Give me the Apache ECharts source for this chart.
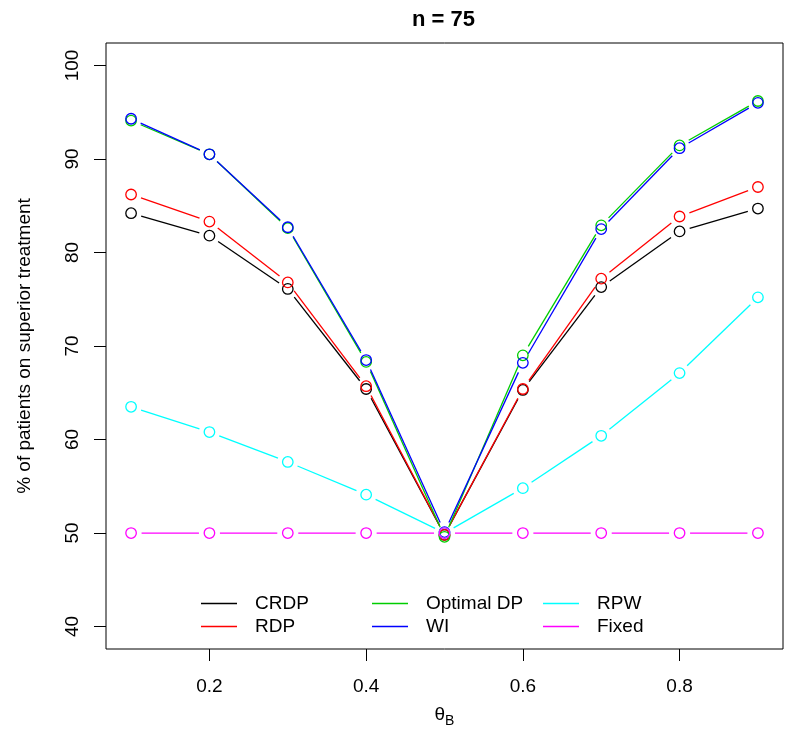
<!DOCTYPE html>
<html>
<head>
<meta charset="utf-8">
<script src="https://cdn.jsdelivr.net/npm/echarts@6/dist/echarts.min.js"></script>
<style>
html,body{margin:0;padding:0;background:#fff;}
#chart{width:800px;height:731px;}
</style>
</head>
<body>
<div id="chart"></div>
<script>
// ---- data ----
const theta = [0.1, 0.2, 0.3, 0.4, 0.5, 0.6, 0.7, 0.8, 0.9];
const crdp   = [84.2, 81.8, 76.1, 65.4, 49.8, 65.3, 76.3, 82.25, 84.7];
const rdp    = [86.2, 83.3, 76.8, 65.7, 49.8, 65.4, 77.2, 83.85, 87.0];
const optDP  = [94.1, 90.5, 82.6, 68.3, 49.6, 69.0, 82.9, 91.45, 96.2];
const wi     = [94.3, 90.5, 82.7, 68.5, 50.1, 68.2, 82.5, 91.15, 96.0];
const rpw    = [63.5, 60.8, 57.6, 54.1, 50.0, 54.8, 60.4, 67.1, 75.2];
const fixed  = [50, 50, 50, 50, 50, 50, 50, 50, 50];
const seriesNames = ['CRDP', 'RDP', 'Optimal DP', 'WI', 'RPW', 'Fixed'];
const xTicks = [0.2, 0.4, 0.6, 0.8];
const yTicks = [40, 50, 60, 70, 80, 90, 100];
const titleText = 'n = 75';
const yTitle = '% of patients on superior treatment';

const allVals = [crdp, rdp, optDP, wi, rpw, fixed];
const colors = ['#000000', '#ff0000', '#00cd00', '#0000ff', '#00ffff', '#ff00ff'];
const FONT = 'Liberation Sans, Arial, Helvetica, sans-serif';
const LW = 1.3;
const GAP = 10.5;

function segSeries(idx) {
  const vals = allVals[idx];
  const color = colors[idx];
  return {
    type: 'custom',
    name: seriesNames[idx] + ' line',
    z: 2 + idx,
    silent: true,
    data: theta.map((t, i) => [t, vals[i]]),
    renderItem: function (params, api) {
      const i = params.dataIndex;
      if (i >= theta.length - 1) return null;
      const p0 = api.coord([theta[i], vals[i]]);
      const p1 = api.coord([theta[i + 1], vals[i + 1]]);
      const dx = p1[0] - p0[0], dy = p1[1] - p0[1];
      const L = Math.hypot(dx, dy);
      if (L <= 2 * GAP) return null;
      const ux = dx / L, uy = dy / L;
      return {
        type: 'line',
        shape: { x1: p0[0] + ux * GAP, y1: p0[1] + uy * GAP, x2: p1[0] - ux * GAP, y2: p1[1] - uy * GAP },
        style: { stroke: color, lineWidth: LW, fill: null }
      };
    }
  };
}
function ptSeries(idx) {
  return {
    type: 'scatter',
    name: seriesNames[idx],
    z: 10 + idx,
    symbol: 'circle',
    symbolSize: 10.5,
    data: theta.map((t, i) => [t, allVals[idx][i]]),
    itemStyle: { color: 'rgba(0,0,0,0)', borderColor: colors[idx], borderWidth: LW, opacity: 1 },
    emphasis: { disabled: true }
  };
}
const series = [];
for (let i = 0; i < 6; i++) { series.push(segSeries(i)); series.push(ptSeries(i)); }

function legendCol(left, idxs) {
  return {
    orient: 'vertical',
    left: left,
    top: 592,
    padding: 0,
    itemGap: 0,
    itemWidth: 36,
    itemHeight: 1.4,
    selectedMode: false,
    data: idxs.map(i => ({ name: seriesNames[i], icon: 'rect', itemStyle: { color: colors[i], borderWidth: 0 } })),
    textStyle: { fontFamily: FONT, fontSize: 19, color: '#000', lineHeight: 23, padding: [0, 0, 0, 13] }
  };
}

const chart = echarts.init(document.getElementById('chart'), null, { renderer: 'canvas' });
chart.setOption({
  animation: false,
  backgroundColor: '#fff',
  title: {
    text: titleText,
    left: 412,
    top: 9,
    padding: 0,
    textStyle: { fontFamily: FONT, fontSize: 22, fontWeight: 'bold', color: '#000' }
  },
  legend: [legendCol(201, [0, 1]), legendCol(372, [2, 3]), legendCol(543, [4, 5])],
  grid: { left: 106, right: 17, top: 43, bottom: 82, show: true, borderColor: '#000', borderWidth: 1, backgroundColor: 'transparent', containLabel: false, outerBoundsMode: 'none' },
  xAxis: {
    type: 'value',
    min: 0.068, max: 0.932,
    axisLine: { show: false },
    splitLine: { show: false },
    axisTick: { show: true, length: 12, inside: false, customValues: xTicks, lineStyle: { color: '#000', width: 1 } },
    axisLabel: { customValues: xTicks, formatter: v => v.toFixed(1), fontFamily: FONT, fontSize: 19, color: '#000', margin: 28 },
    name: '{t|θ}{s|B}',
    nameLocation: 'middle',
    nameGap: 53,
    nameTextStyle: {
      fontFamily: FONT, fontSize: 19, color: '#000',
      rich: {
        t: { fontFamily: FONT, fontSize: 19, color: '#000' },
        s: { fontFamily: FONT, fontSize: 14, color: '#000', padding: [12, 0, 0, 0] }
      }
    }
  },
  yAxis: {
    type: 'value',
    min: 37.6, max: 102.4,
    axisLine: { show: false },
    splitLine: { show: false },
    axisTick: { show: true, length: 12, inside: false, customValues: yTicks, lineStyle: { color: '#000', width: 1 } },
    axisLabel: { customValues: yTicks, rotate: 90, fontFamily: FONT, fontSize: 19, color: '#000', margin: 24 },
    name: yTitle,
    nameLocation: 'middle',
    nameRotate: 90,
    nameGap: 72,
    nameTextStyle: { fontFamily: FONT, fontSize: 19, color: '#000' }
  },
  series: series
});
</script>
</body>
</html>
